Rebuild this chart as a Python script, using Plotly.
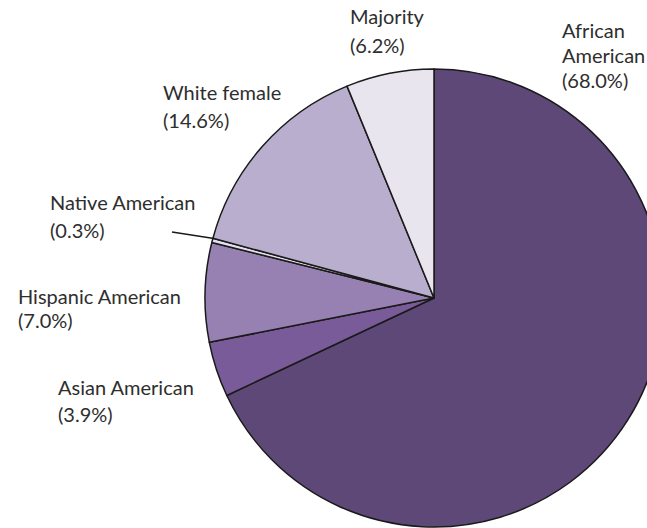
import plotly.graph_objects as go

# Data
groups = ["African American", "Asian American", "Hispanic American",
          "Native American", "White female", "Majority"]
shares = [68.0, 3.9, 7.0, 0.3, 14.6, 6.2]
colors = ["#5E4878", "#7A5B9A", "#9681B2", "#E4DFEC", "#B9AECD", "#E9E5EF"]

# label lines (first lines of label text) split for layout
label_lines = {
    "African American": ["African", "American"],
    "Asian American": ["Asian American"],
    "Hispanic American": ["Hispanic American"],
    "Native American": ["Native American"],
    "White female": ["White female"],
    "Majority": ["Majority"],
}

W, H = 700, 560
cx, cy, r = 434, 298, 229

fig = go.Figure(go.Pie(
    labels=groups, values=shares, sort=False, direction="clockwise", rotation=0,
    marker=dict(colors=colors, line=dict(color="#1a1a1a", width=1.5)),
    textinfo="none", hoverinfo="label+percent", showlegend=False,
    domain=dict(x=[(cx - r) / W, (cx + r) / W], y=[(H - cy - r) / H, (H - cy + r) / H]),
))

# label placement: left x and y centers for each line (pixels)
label_pos = {
    "Majority": (348, [16, 45]),
    "African American": (560, [30, 55, 80]),
    "White female": (161, [92, 120]),
    "Native American": (48, [202, 230]),
    "Hispanic American": (16, [296, 320]),
    "Asian American": (56, [387, 413.5]),
}

anns = []
for g, v in zip(groups, shares):
    x0, ys = label_pos[g]
    lines = label_lines[g] + [f"({v:.1f}%)"]
    for line, yy in zip(lines, ys):
        anns.append(dict(x=x0 / W, y=1 - yy / H, xref="paper", yref="paper",
                         text=line, showarrow=False, xanchor="left", yanchor="middle",
                         font=dict(family="Lato", size=20, color="#2e2e2e")))

fig.update_layout(
    width=W, height=H, margin=dict(l=0, r=0, t=0, b=0),
    paper_bgcolor="white", plot_bgcolor="white",
    annotations=anns,
    shapes=[dict(type="line", xref="paper", yref="paper",
                 x0=172 / W, y0=1 - 232 / H, x1=214 / W, y1=1 - 238.5 / H,
                 line=dict(color="#1a1a1a", width=1.5))],
)

fig.write_html("out.html", post_script="document.body.style.margin='0';document.body.style.overflow='hidden';document.documentElement.style.overflow='hidden';")
